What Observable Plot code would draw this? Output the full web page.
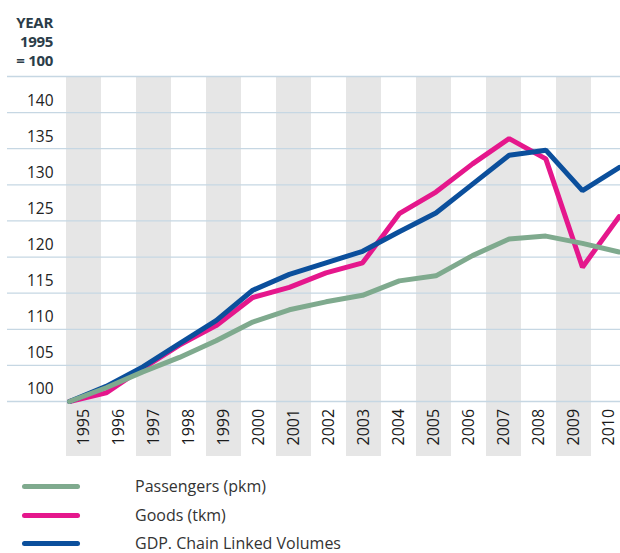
<!DOCTYPE html>
<html>
<head>
<meta charset="utf-8">
<script src="https://cdn.jsdelivr.net/npm/d3@7"></script>
<script src="https://cdn.jsdelivr.net/npm/@observablehq/plot@0.6"></script>
<style>
  html, body { margin: 0; padding: 0; background: #fff; }
  #wrap { position: relative; width: 620px; height: 553px; overflow: hidden; font-family: "Open Sans", sans-serif; }
  #wrap svg { position: absolute; left: 0; top: 0; }
  #title { position: absolute; left: 0; top: 13px; width: 53px; text-align: right; font-weight: bold; font-size: 15px; line-height: 19px; color: #2b3d49; letter-spacing: -0.3px; }
  #legend { position: absolute; left: 0; top: 475px; width: 620px; }
  .item { position: absolute; left: 0; height: 22px; width: 620px; }
  .swatch { position: absolute; left: 22px; top: 9px; width: 58px; height: 5px; border-radius: 3px; }
  .lab { position: absolute; left: 135px; top: 0; font-size: 16px; line-height: 22px; color: #333; white-space: nowrap; }
</style>
</head>
<body>
<div id="wrap"></div>
<script>
const years = [1995, 1996, 1997, 1998, 1999, 2000, 2001, 2002, 2003, 2004, 2005, 2006, 2007, 2008, 2009, 2010];
const passengers = [100, 101.9, 104.1, 106.1, 108.4, 111.0, 112.7, 113.8, 114.7, 116.7, 117.4, 120.2, 122.5, 122.9, 121.9, 120.7];
const goods = [100, 101.2, 104.6, 107.8, 110.5, 114.4, 115.8, 117.8, 119.2, 126.0, 129.0, 132.9, 136.4, 133.6, 118.6, 125.6];
const gdp = [100, 102.1, 104.8, 108.0, 111.2, 115.4, 117.6, 119.2, 120.8, 123.5, 126.1, 130.1, 134.1, 134.8, 129.2, 132.4];
const seriesNames = ["Passengers (pkm)", "Goods (tkm)", "GDP. Chain Linked Volumes"];
const seriesColors = ["#7faa8e", "#e5178c", "#0b4f9c"];
const yTicks = [100, 105, 110, 115, 120, 125, 130, 135, 140, 145];
const yTitle = ["YEAR", "1995", "= 100"];

const W = 620, H = 460;
const yScale = {domain: [100, 145], range: [401, 76]};

const rows = [];
[passengers, goods, gdp].forEach((vals, s) => {
  vals.forEach((v, i) => rows.push({series: seriesNames[s], year: years[i], value: v}));
});

const wrap = document.getElementById("wrap");

// Background: bands, grid, tick labels
const bg = Plot.plot({
  width: W, height: H,
  marginLeft: 7, marginRight: 0, marginTop: 76, marginBottom: 4,
  style: {fontFamily: "Open Sans, sans-serif", background: "transparent", overflow: "visible"},
  x: {type: "band", domain: years, range: [63, 63 + 16 * 35.35], padding: 0, axis: null},
  y: {...yScale, axis: null},
  marks: [
    Plot.cell(years.filter((d, i) => i % 2 === 0), {x: d => d, fill: "#e6e6e6"}),
    Plot.ruleY(yTicks, {stroke: "#c6d7e3", strokeWidth: 1.3}),
    Plot.text(yTicks.filter(d => d < 145), {y: d => d, text: d => String(d), frameAnchor: "left", dx: 46, dy: -12, textAnchor: "end", fontSize: 15.5, fill: "#222"}),
    Plot.text(years, {x: d => d, text: d => String(d), frameAnchor: "bottom", dy: -11, rotate: -90, textAnchor: "start", lineAnchor: "middle", fontSize: 16, fill: "#1a1a1a"})
  ]
});
wrap.appendChild(bg);

// Foreground: lines
const fg = Plot.plot({
  width: W, height: H,
  marginLeft: 7, marginRight: 0, marginTop: 76, marginBottom: 4,
  style: {background: "transparent", overflow: "visible"},
  x: {type: "linear", domain: [1995, 2010], range: [69, 618.6], axis: null},
  y: {...yScale, axis: null},
  color: {domain: seriesNames, range: seriesColors},
  marks: [
    Plot.line(rows.filter(d => d.series === seriesNames[1]), {x: "year", y: "value", stroke: "series", strokeWidth: 5, strokeLinejoin: "miter"}),
    Plot.line(rows.filter(d => d.series === seriesNames[2]), {x: "year", y: "value", stroke: "series", strokeWidth: 5, strokeLinejoin: "miter"}),
    Plot.line(rows.filter(d => d.series === seriesNames[0]), {x: "year", y: "value", stroke: "series", strokeWidth: 5, strokeLinejoin: "miter"})
  ]
});
wrap.appendChild(fg);

// Title
const t = document.createElement("div");
t.id = "title";
t.innerHTML = yTitle.join("<br>");
wrap.appendChild(t);

// Legend
const lg = document.createElement("div");
lg.id = "legend";
seriesNames.forEach((n, i) => {
  const it = document.createElement("div");
  it.className = "item";
  it.style.top = (i * 28.5) + "px";
  const sw = document.createElement("div");
  sw.className = "swatch";
  sw.style.background = seriesColors[i];
  const lb = document.createElement("div");
  lb.className = "lab";
  lb.textContent = n;
  it.appendChild(sw); it.appendChild(lb);
  lg.appendChild(it);
});
wrap.appendChild(lg);
</script>
</body>
</html>
